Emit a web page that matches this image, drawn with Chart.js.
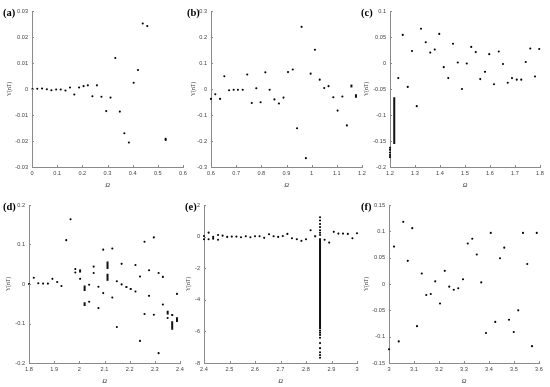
<!DOCTYPE html>
<html>
<head>
<meta charset="utf-8">
<script src="https://cdn.jsdelivr.net/npm/chart.js@4.4.1/dist/chart.umd.min.js"></script>
<style>
  body { margin: 0; background: #fff; }
  #fig { position: relative; width: 550px; height: 387px; overflow: hidden; }
  #fig canvas { position: absolute; }
  .tag { position: absolute; font: bold 10.5px "Liberation Serif"; line-height: 1; color: #000; transform: translateY(-50%); }
</style>
</head>
<body>
<div id="fig"></div>
<script>
// panel (a)
const aX = [0.002, 0.021, 0.040, 0.059, 0.077, 0.096, 0.114, 0.133, 0.151, 0.168, 0.187, 0.205, 0.222, 0.240, 0.258, 0.276, 0.295, 0.312, 0.331, 0.349, 0.367, 0.385, 0.404, 0.421, 0.440, 0.458, 0.531, 0.531];
const aY = [0, 0.0001, 0.0002, -0.0001, -0.0005, -0.0002, -0.0002, -0.0006, 0.0006, -0.0021, 0.0006, 0.0011, 0.0014, -0.0028, 0.0014, -0.003, -0.0085, -0.0033, 0.0119, -0.0087, -0.017, -0.0206, 0.0024, 0.0073, 0.0252, 0.0242, -0.0192, -0.0196];
const aSeg = [];
const aXTicks = [0, 0.1, 0.2, 0.3, 0.4, 0.5, 0.6];
const aXLabels = ["0", "0.1", "0.2", "0.3", "0.4", "0.5", "0.6"];
const aYTicks = [-0.03, -0.02, -0.01, 0, 0.01, 0.02, 0.03];
const aYLabels = ["-0.03", "-0.02", "-0.01", "0", "0.01", "0.02", "0.03"];

// panel (b)
const bX = [0.600, 0.617, 0.636, 0.653, 0.672, 0.690, 0.707, 0.726, 0.744, 0.762, 0.780, 0.797, 0.816, 0.833, 0.852, 0.870, 0.888, 0.906, 0.925, 0.942, 0.960, 0.977, 0.996, 1.013, 1.032, 1.050, 1.067, 1.086, 1.103, 1.122, 1.140];
const bY = [-0.038, -0.020, -0.038, 0.049, -0.005, -0.003, -0.003, -0.003, 0.056, -0.054, 0.003, -0.051, 0.064, -0.003, -0.040, -0.056, -0.033, 0.065, 0.075, -0.151, 0.239, -0.266, 0.059, 0.151, 0.036, 0.004, 0.011, -0.032, -0.083, -0.029, -0.140];
const bSeg = [[1.158, 0.006, 0.017], [1.176, -0.020, -0.034]];
const bXTicks = [0.6, 0.7, 0.8, 0.9, 1, 1.1, 1.2];
const bXLabels = ["0.6", "0.7", "0.8", "0.9", "1", "1.1", "1.2"];
const bYTicks = [-0.3, -0.2, -0.1, 0, 0.1, 0.2, 0.3];
const bYLabels = ["-0.3", "-0.2", "-0.1", "0", "0.1", "0.2", "0.3"];

// panel (c)
const cX = [1.2, 1.2, 1.2, 1.2, 1.2, 1.233, 1.251, 1.271, 1.288, 1.307, 1.324, 1.343, 1.361, 1.379, 1.397, 1.415, 1.433, 1.452, 1.471, 1.488, 1.507, 1.525, 1.543, 1.561, 1.580, 1.597, 1.616, 1.635, 1.652, 1.671, 1.688, 1.707, 1.725, 1.743, 1.761, 1.780, 1.797];
const cY = [-0.163, -0.167, -0.172, -0.177, -0.181, -0.029, 0.054, -0.046, 0.023, -0.083, 0.066, 0.040, 0.020, 0.026, 0.056, -0.008, -0.029, 0.037, 0.001, -0.050, -0.001, 0.031, 0.021, -0.031, -0.017, 0.017, -0.041, 0.022, -0.002, -0.038, -0.029, -0.032, -0.032, 0.002, 0.028, -0.026, 0.027];
const cSeg = [[1.217, -0.066, -0.156]];
const cXTicks = [1.2, 1.3, 1.4, 1.5, 1.6, 1.7, 1.8];
const cXLabels = ["1.2", "1.3", "1.4", "1.5", "1.6", "1.7", "1.8"];
const cYTicks = [-0.2, -0.15, -0.1, -0.05, 0, 0.05, 0.1];
const cYLabels = ["-0.2", "-0.15", "-0.1", "-0.05", "0", "0.05", "0.1"];

// panel (d)
const dX = [1.8, 1.819, 1.837, 1.856, 1.875, 1.893, 1.912, 1.929, 1.948, 1.965, 1.984, 1.984, 2.003, 2.039, 2.039, 2.057, 2.057, 2.076, 2.076, 2.095, 2.095, 2.131, 2.131, 2.149, 2.149, 2.168, 2.168, 2.223, 2.223, 2.241, 2.241, 2.259, 2.259, 2.277, 2.277, 2.296, 2.296, 2.315, 2.315, 2.332, 2.332, 2.351, 2.388];
const dY = [0, 0.016, 0.002, 0.001, 0.001, 0.013, 0.005, -0.005, 0.111, 0.164, 0.038, 0.029, 0.013, -0.002, -0.045, 0.044, 0.028, -0.007, -0.061, 0.087, -0.023, 0.090, -0.034, 0.007, -0.109, 0.051, -0.001, 0.048, -0.019, 0.019, -0.144, 0.107, -0.076, 0.035, -0.030, 0.118, -0.078, 0.028, -0.175, 0.018, -0.052, -0.086, -0.025];
const dSeg = [[2.003, 0.029, 0.037], [2.021, -0.004, -0.018], [2.021, -0.046, -0.056], [2.112, 0.038, 0.057], [2.112, 0.008, 0.026], [2.187, -0.005, -0.010], [2.204, -0.010, -0.015], [2.351, -0.068, -0.077], [2.369, -0.076, -0.081], [2.369, -0.094, -0.116], [2.388, -0.084, -0.096]];
const dXTicks = [1.8, 1.9, 2, 2.1, 2.2, 2.3, 2.4];
const dXLabels = ["1.8", "1.9", "2", "2.1", "2.2", "2.3", "2.4"];
const dYTicks = [-0.2, -0.1, 0, 0.1, 0.2];
const dYLabels = ["-0.2", "-0.1", "0", "0.1", "0.2"];

// panel (e)
const eX = [2.4, 2.4, 2.418, 2.418, 2.436, 2.436, 2.455, 2.455, 2.473, 2.491, 2.509, 2.527, 2.545, 2.564, 2.582, 2.6, 2.618, 2.636, 2.655, 2.673, 2.691, 2.709, 2.727, 2.745, 2.764, 2.782, 2.8, 2.818, 2.873, 2.891, 2.909, 2.927, 2.945, 2.964, 2.982, 3.0,
  2.855, 2.855, 2.855, 2.855, 2.855, 2.855, 2.855, 2.855, 2.855, 2.855, 2.855, 2.855, 2.855, 2.855, 2.855, 2.855];
const eY = [0.04, -0.17, 0.25, -0.17, -0.02, -0.13, 0.1, -0.2, 0.06, -0.02, 0, 0, -0.04, 0.02, -0.04, 0.02, 0.02, -0.08, 0.15, 0.02, -0.02, 0.04, 0.17, -0.1, -0.17, -0.27, -0.17, 0.4, -0.2, -0.38, 0.3, 0.19, 0.19, 0.17, -0.1, 0.21,
  1.22, 1.02, 0.8, 0.6, 0.4, 0.24, 0.1, -5.95, -6.08, -6.22, -6.4, -6.74, -7.06, -7.32, -7.5, -7.67];
const eSeg = [[2.836, 0.08, -0.04], [2.855, -0.1, -5.85]];
const eXTicks = [2.4, 2.5, 2.6, 2.7, 2.8, 2.9, 3];
const eXLabels = ["2.4", "2.5", "2.6", "2.7", "2.8", "2.9", "3"];
const eYTicks = [-8, -6, -4, -2, 0, 2];
const eYLabels = ["-8", "-6", "-4", "-2", "0", "2"];

// panel (f)
const fX = [3.0, 3.02, 3.039, 3.057, 3.075, 3.093, 3.112, 3.131, 3.149, 3.167, 3.185, 3.204, 3.223, 3.241, 3.259, 3.277, 3.296, 3.315, 3.333, 3.351, 3.369, 3.388, 3.407, 3.425, 3.444, 3.461, 3.480, 3.499, 3.517, 3.536, 3.553, 3.572, 3.591];
const fY = [-0.124, 0.071, -0.109, 0.118, 0.044, 0.106, -0.080, 0.020, -0.021, -0.019, 0.005, -0.037, 0.025, -0.005, -0.011, -0.008, 0.009, 0.077, 0.086, 0.056, 0.003, -0.093, 0.097, -0.072, 0.049, 0.069, -0.068, -0.091, -0.050, 0.097, 0.038, -0.118, 0.097];
const fSeg = [];
const fXTicks = [3, 3.1, 3.2, 3.3, 3.4, 3.5, 3.6];
const fXLabels = ["3", "3.1", "3.2", "3.3", "3.4", "3.5", "3.6"];
const fYTicks = [-0.15, -0.1, -0.05, 0, 0.05, 0.1, 0.15];
const fYLabels = ["-0.15", "-0.1", "-0.05", "0", "0.05", "0.1", "0.15"];

const fig = document.getElementById("fig");
const PAD_TOP = 8, PAD_RIGHT = 10, X_AXIS_H = 22;
const AXIS_COLOR = "#8a8a8a";

// MATLAB style ticks pointing into the plot
const inTicks = {
  id: "inTicks",
  afterDraw(chart) {
    const ctx = chart.ctx, a = chart.chartArea;
    const xs = chart.scales.x, ys = chart.scales.y;
    ctx.save();
    ctx.strokeStyle = AXIS_COLOR;
    ctx.lineWidth = 1;
    ctx.beginPath();
    xs.ticks.forEach((t, i) => {
      const px = Math.round(xs.getPixelForTick(i)) + 0.5;
      ctx.moveTo(px, a.bottom);
      ctx.lineTo(px, a.bottom - 2);
    });
    ys.ticks.forEach((t, i) => {
      const py = Math.round(ys.getPixelForTick(i)) + 0.5;
      ctx.moveTo(a.left, py);
      ctx.lineTo(a.left + 2, py);
    });
    ctx.stroke();
    ctx.restore();
  }
};

function makePanel(p) {
  const yW = p.left - (p.titleX - 5);
  const w = yW + (p.right - p.left) + PAD_RIGHT;
  const h = PAD_TOP + (p.bottom - p.top) + X_AXIS_H;
  const cv = document.createElement("canvas");
  cv.width = w;
  cv.height = h;
  cv.style.left = (p.left - yW) + "px";
  cv.style.top = (p.top - PAD_TOP) + "px";
  fig.appendChild(cv);

  const datasets = [{
    data: p.xs.map((x, i) => ({x: x, y: p.ys[i]})),
    pointRadius: 1.05,
    pointBorderWidth: 0,
    pointBackgroundColor: "#000",
    clip: false
  }];
  p.segs.forEach(s => {
    datasets.push({
      type: "line",
      data: [{x: s[0], y: s[1]}, {x: s[0], y: s[2]}],
      borderColor: "#111",
      borderWidth: 2,
      borderCapStyle: "butt",
      pointRadius: 0,
      showLine: true,
      clip: false
    });
  });

  const tickFont = {family: "Liberation Sans", size: 5.6};
  new Chart(cv, {
    type: "scatter",
    data: {datasets: datasets},
    options: {
      responsive: false,
      animation: false,
      devicePixelRatio: 1,
      layout: {padding: {left: 0, top: PAD_TOP, right: PAD_RIGHT, bottom: 0}},
      plugins: {legend: {display: false}, tooltip: {enabled: false}},
      scales: {
        x: {
          type: "linear",
          min: p.xTicks[0],
          max: p.xTicks[p.xTicks.length - 1],
          grid: {display: false, drawTicks: false},
          border: {display: true, color: AXIS_COLOR, width: 1},
          afterBuildTicks: s => { s.ticks = p.xTicks.map(v => ({value: v})); },
          afterFit: s => { s.height = X_AXIS_H; s.paddingLeft = s.paddingRight = s.paddingTop = s.paddingBottom = 0; },
          ticks: {
            autoSkip: false, maxRotation: 0, padding: 3,
            color: "#444", font: tickFont,
            callback: (v, i) => p.xLabels[i]
          },
          title: {display: true, text: "\u03A9", color: "#333", padding: 0,
                  font: {family: "Liberation Serif", size: 6.5, style: "italic"}}
        },
        y: {
          type: "linear",
          min: p.yTicks[0],
          max: p.yTicks[p.yTicks.length - 1],
          grid: {display: false, drawTicks: false},
          border: {display: true, color: AXIS_COLOR, width: 1},
          afterBuildTicks: s => { s.ticks = p.yTicks.map(v => ({value: v})); },
          afterFit: s => { s.width = yW; s.paddingLeft = s.paddingRight = s.paddingTop = s.paddingBottom = 0; },
          ticks: {
            autoSkip: false, padding: 4,
            color: "#444", font: tickFont,
            callback: (v, i) => p.yLabels[i]
          },
          title: {display: true, text: "Y(nT)", color: "#333", padding: 0,
                  font: {family: "Liberation Serif", size: 5.6}}
        }
      }
    },
    plugins: [inTicks]
  });

  const tag = document.createElement("div");
  tag.className = "tag";
  tag.textContent = p.tag;
  tag.style.left = p.tagX + "px";
  tag.style.top = p.tagY + "px";
  fig.appendChild(tag);
}

makePanel({tag: "(a)", tagX: 3, tagY: 13, left: 32, right: 183, top: 11, bottom: 167, titleX: 11,
  xs: aX, ys: aY, segs: aSeg, xTicks: aXTicks, xLabels: aXLabels, yTicks: aYTicks, yLabels: aYLabels});
makePanel({tag: "(b)", tagX: 187, tagY: 13, left: 211, right: 362, top: 11, bottom: 167, titleX: 195,
  xs: bX, ys: bY, segs: bSeg, xTicks: bXTicks, xLabels: bXLabels, yTicks: bYTicks, yLabels: bYLabels});
makePanel({tag: "(c)", tagX: 361, tagY: 13, left: 390, right: 540, top: 11, bottom: 167, titleX: 368,
  xs: cX, ys: cY, segs: cSeg, xTicks: cXTicks, xLabels: cXLabels, yTicks: cYTicks, yLabels: cYLabels});
makePanel({tag: "(d)", tagX: 3, tagY: 207, left: 29, right: 180, top: 205, bottom: 363, titleX: 10,
  xs: dX, ys: dY, segs: dSeg, xTicks: dXTicks, xLabels: dXLabels, yTicks: dYTicks, yLabels: dYLabels});
makePanel({tag: "(e)", tagX: 185, tagY: 207, left: 204, right: 357, top: 205, bottom: 363, titleX: 190,
  xs: eX, ys: eY, segs: eSeg, xTicks: eXTicks, xLabels: eXLabels, yTicks: eYTicks, yLabels: eYLabels});
makePanel({tag: "(f)", tagX: 361, tagY: 207, left: 389, right: 539, top: 205, bottom: 363, titleX: 368,
  xs: fX, ys: fY, segs: fSeg, xTicks: fXTicks, xLabels: fXLabels, yTicks: fYTicks, yLabels: fYLabels});
</script>
</body>
</html>
